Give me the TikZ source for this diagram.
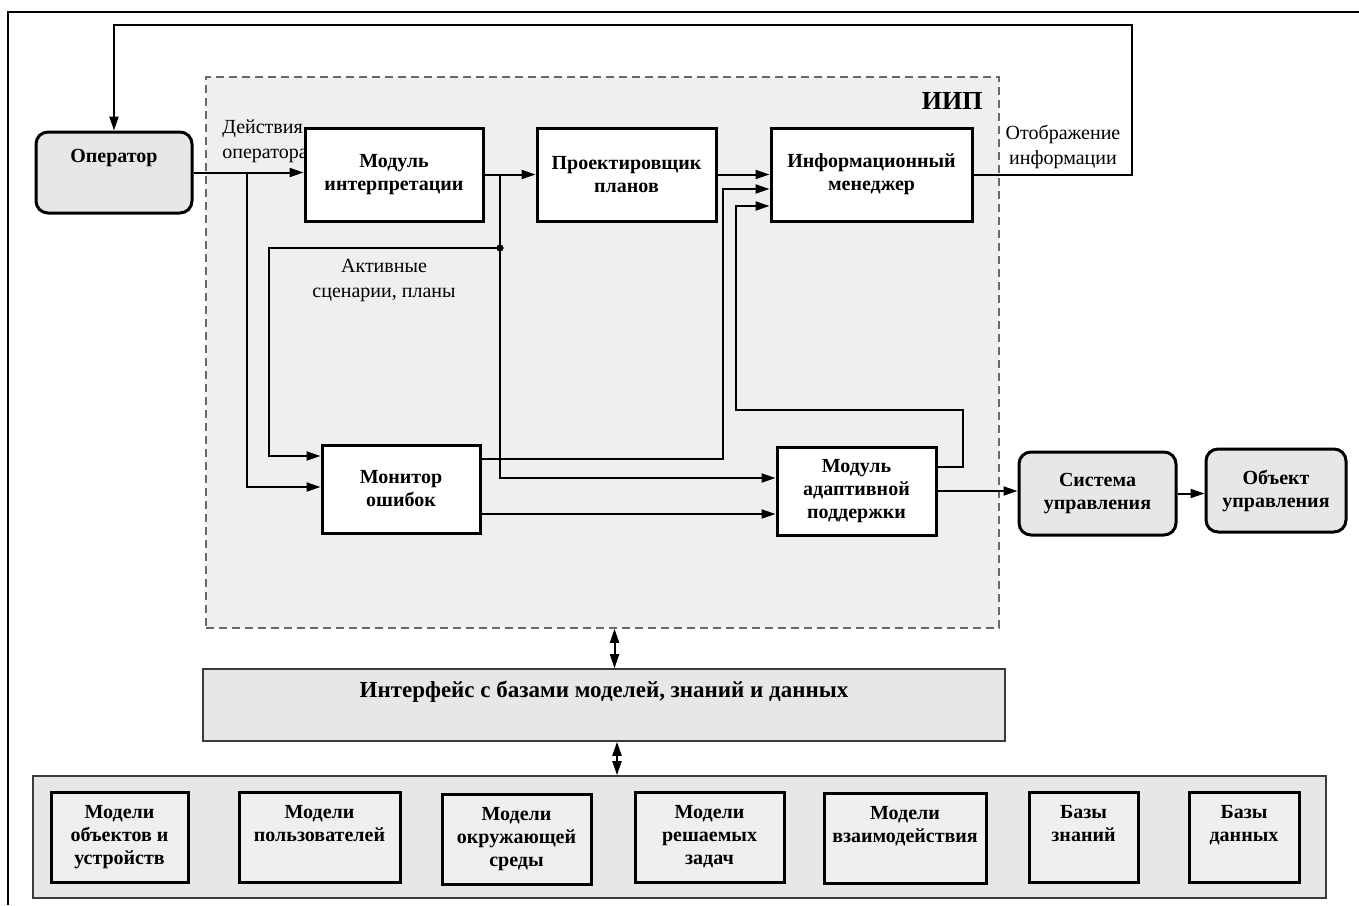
\documentclass[tikz,border=0pt]{standalone}
\usepackage{fontspec}
\setmainfont{Liberation Serif}
\usetikzlibrary{arrows.meta,positioning}
\definecolor{panelgray}{RGB}{239,239,239}
\definecolor{boxgray}{RGB}{231,231,231}
\definecolor{dashgray}{RGB}{105,105,105}
\definecolor{edgegray}{RGB}{60,60,60}

\begin{document}
\begin{tikzpicture}[x=0.5pt, y=-0.5pt, font=\fontsize{10}{12.5}\selectfont,
      blk/.style={rectangle, draw, line width=1.5pt, fill=white, align=center,
                  font=\fontsize{10}{11.5}\selectfont\bfseries, minimum height=46.5pt},
      ext/.style={blk, fill=boxgray, rounded corners=6pt},
      mdl/.style={rectangle, draw, line width=1.5pt, fill=panelgray, minimum height=45pt},
      mtxt/.style={anchor=north, align=center, inner sep=0pt, font=\fontsize{10}{11.5}\selectfont\bfseries},
      lbl/.style={align=center, inner sep=0pt},
      arr/.style={-{Triangle[length=7pt,width=4.5pt]}, line width=1pt},
      dbl/.style={{Triangle[length=7pt,width=4.5pt]}-{Triangle[length=7pt,width=4.5pt]}, line width=1pt}]
    \useasboundingbox (0,0) rectangle (1359,905);
    \draw[line width=1pt] (8,905) -- (8,12) -- (1359,12);

    % panel of the IIP
    \node[draw=dashgray, dash pattern=on 4pt off 2.5pt, line width=0.8pt, fill=panelgray,
          minimum width=396.5pt, minimum height=275.5pt] (iip) at (602.5,352.5) {};
    \node[anchor=east, inner sep=0pt, font=\fontsize{13}{13}\selectfont\bfseries] (iipT) at (983,101) {ИИП};
    \node[lbl, anchor=west, align=left] (actT) at (222,141) {Действия\\оператора};

    \node[ext, minimum width=78pt, minimum height=40.5pt] (op) at (114,172.5) {};
    \node[lbl, font=\fontsize{10}{11.5}\selectfont\bfseries] (opT) at ([yshift=7pt]op.center) {Оператор};
    \node[blk, minimum width=89pt]   (intp) at (394,174.5)   {Модуль\\интерпретации};
    \node[blk, minimum width=89.5pt] (plan) at (626.5,174.5) {Проектировщик\\планов};
    \node[blk, minimum width=100.5pt] (info) at (871.5,174.5) {Информационный\\менеджер};
    \node[blk, minimum width=79pt, minimum height=44pt]   (mon)  at (401,489)   {Монитор\\ошибок};
    \node[blk, minimum width=79.5pt, minimum height=44pt] (adpt) at (856.5,491) {Модуль\\адаптивной\\поддержки};
    \node[ext, minimum width=78.5pt, minimum height=41.5pt] (sys) at (1097.5,493.5) {Система\\управления};
    \node[ext, minimum width=70pt, minimum height=41.5pt]   (obj) at (1276,490.5)   {Объект\\управления};

    \node[lbl] (scnT)  at (384,281)  {Активные\\сценарии, планы};
    \node[lbl] (dispT) at (1063,147) {Отображение\\информации};

    % interface and bases
    \node[draw=edgegray, line width=0.8pt, fill=boxgray, minimum width=401pt, minimum height=36pt] (ifc) at (604,705) {};
    \node[lbl, font=\fontsize{11.5}{12}\selectfont\bfseries] (ifcT) at ([yshift=6.5pt]ifc.center) {Интерфейс с базами моделей, знаний и данных};
    \node[draw=edgegray, line width=0.8pt, fill=boxgray, minimum width=646.5pt, minimum height=61pt] (base) at (679.5,837) {};

    \node[mdl, minimum width=68.5pt] (mObj) at (119.5,837) {};
    \node[mtxt] (mObjT) at ([yshift=-7pt]mObj.north) {Модели\\объектов и\\устройств};
    \node[mdl, minimum width=80.5pt] (mUsr) at (319.5,837) {};
    \node[mtxt] (mUsrT) at ([yshift=-7pt]mUsr.north) {Модели\\пользователей};
    \node[mdl, minimum width=74.5pt] (mEnv) at (516.5,839) {};
    \node[mtxt] (mEnvT) at ([yshift=-7pt]mEnv.north) {Модели\\окружающей\\среды};
    \node[mdl, minimum width=74.5pt] (mTsk) at (709.5,837) {};
    \node[mtxt] (mTskT) at ([yshift=-7pt]mTsk.north) {Модели\\решаемых\\задач};
    \node[mdl, minimum width=81pt] (mInt) at (905,838) {};
    \node[mtxt] (mIntT) at ([yshift=-7pt]mInt.north) {Модели\\взаимодействия};
    \node[mdl, minimum width=54.5pt] (kb) at (1083.5,837) {};
    \node[mtxt] (kbT) at ([yshift=-7pt]kb.north) {Базы\\знаний};
    \node[mdl, minimum width=55pt] (db) at (1244,837) {};
    \node[mtxt] (dbT) at ([yshift=-7pt]db.north) {Базы\\данных};

    % connectors
    \coordinate (jOp)  at (247,172.5);
    \coordinate (jIn)  at (500,174.5);
    \coordinate (jDot) at (500,248);
    \draw[arr] (op.east) -- (op.east -| intp.west);
    \draw[arr] (jOp) |- ([yshift=1pt]mon.west);
    \draw[arr] (intp) -- (plan);
    \draw[arr] (jIn) |- ([yshift=6.5pt]adpt.west);
    \fill (jDot) circle (1.8pt);
    \draw[arr] (jDot) -- (269,248) |- ([yshift=16.5pt]mon.west);
    \draw[arr] (plan) -- (info);
    \draw[arr] ([yshift=15pt]mon.east) -- (723,459) |- ([yshift=-7.25pt]info.west);
    \draw[arr] ([yshift=12pt]adpt.east) -- (963,467) -- (963,410) -- (736,410) |- ([yshift=-15.75pt]info.west);
    \draw[arr] ([yshift=-12.5pt]mon.east) -- ([yshift=-12.5pt]mon.east -| adpt.west);
    \draw[arr] (adpt.east) -- (adpt.east -| sys.west);
    \draw[arr] (sys.east) -- (sys.east -| obj.west);
    \draw[arr] (info.east) -| (1132,25) -| (op.north);
    \draw[dbl] ([xshift=6pt]iip.south) -- ([xshift=6pt]iip.south |- ifc.north);
    \draw[dbl] ([xshift=6.5pt]ifc.south) -- ([xshift=6.5pt]ifc.south |- base.north);
  \end{tikzpicture}
\end{document}
